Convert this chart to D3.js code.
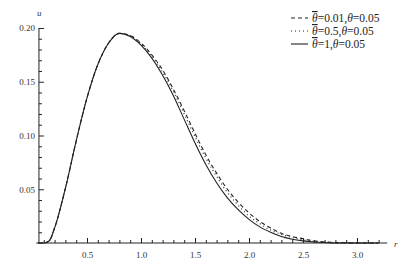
<!DOCTYPE html>
<html>
<head>
<meta charset="utf-8">
<script src="https://cdn.jsdelivr.net/npm/d3@7"></script>
<style>
  html, body { margin: 0; padding: 0; background: #fff; }
  svg { display: block; }
</style>
</head>
<body>
<svg id="chart" width="419" height="263"></svg>
<script>
// ---- data ----
const xs = [0.05,0.1,0.15,0.2,0.3,0.4,0.5,0.6,0.7,0.8,0.9,1.0,1.1,1.2,1.3,1.4,1.5,1.6,1.7,1.8,1.9,2.0,2.1,2.2,2.3,2.4,2.5,2.6,2.7,2.8,2.9,3.0,3.1,3.2];
const uDashed = [0,0,0.002,0.014,0.051,0.095,0.135,0.166,0.186,0.195,0.193,0.186,0.175,0.161,0.143,0.123,0.102,0.082,0.065,0.050,0.038,0.028,0.020,0.014,0.009,0.006,0.004,0.002,0.001,0.0005,0.0002,0,0,0];
const uDotted = [0,0,0.002,0.014,0.051,0.095,0.135,0.166,0.186,0.195,0.193,0.185,0.174,0.159,0.141,0.120,0.099,0.079,0.062,0.047,0.035,0.025,0.018,0.012,0.008,0.005,0.003,0.0015,0.0007,0.0002,0,0,0,0];
const uSolid = [0,0,0.002,0.014,0.051,0.095,0.135,0.166,0.186,0.195,0.192,0.184,0.172,0.156,0.137,0.115,0.093,0.073,0.056,0.042,0.031,0.022,0.015,0.010,0.006,0.0035,0.002,0.001,0.0004,0,0,0,0,0];
const seriesNames = ["=0.01,", "=0.5,", "=1,"];
const xMajorTicks = [0.5,1.0,1.5,2.0,2.5,3.0];
const xMinorTicks = [0.1,0.2,0.3,0.4,0.6,0.7,0.8,0.9,1.1,1.2,1.3,1.4,1.6,1.7,1.8,1.9,2.1,2.2,2.3,2.4,2.6,2.7,2.8,2.9,3.1,3.2];
const yMajorTicks = [0.05,0.10,0.15,0.20];
const yMinorTicks = [0.01,0.02,0.03,0.04,0.06,0.07,0.08,0.09,0.11,0.12,0.13,0.14,0.16,0.17,0.18,0.19];

// ---- scales ----
const svg = d3.select("#chart");
const x = d3.scaleLinear().domain([0, 3.0]).range([33, 357]);
const y = d3.scaleLinear().domain([0, 0.2]).range([243, 28]);
const yAxisAt = 0.055;
const ink = "#222";
const font = "'Liberation Serif', 'DejaVu Serif', serif";

// ---- axes ----
svg.append("line").attr("x1", x(0.03)).attr("x2", x(3.28)).attr("y1", y(0)).attr("y2", y(0))
  .attr("stroke", ink).attr("stroke-width", 1);
const gx = svg.append("g").attr("transform", `translate(0,${y(0)})`)
  .call(d3.axisBottom(x).tickValues(xMajorTicks).tickSizeInner(-5).tickSizeOuter(0).tickPadding(9).tickFormat(d3.format(".1f")));
const gxm = svg.append("g").attr("transform", `translate(0,${y(0)})`)
  .call(d3.axisBottom(x).tickValues(xMinorTicks).tickSizeInner(-3).tickSizeOuter(0).tickFormat(""));
const gy = svg.append("g").attr("transform", `translate(${x(yAxisAt)},0)`)
  .call(d3.axisLeft(y).tickValues(yMajorTicks).tickSizeInner(-5).tickSizeOuter(0).tickPadding(4).tickFormat(d3.format(".2f")));
const gym = svg.append("g").attr("transform", `translate(${x(yAxisAt)},0)`)
  .call(d3.axisLeft(y).tickValues(yMinorTicks).tickSizeInner(-3).tickSizeOuter(0).tickFormat(""));
svg.append("line").attr("x1", x(yAxisAt)).attr("x2", x(yAxisAt)).attr("y1", y(0)).attr("y2", y(0.2))
  .attr("stroke", ink).attr("stroke-width", 1);
[gx, gxm, gy, gym].forEach(g => {
  g.select(".domain").remove();
  g.selectAll(".tick line").attr("stroke", ink);
  g.selectAll("text").attr("font-family", font).attr("font-size", 9).attr("fill", "#333");
});

svg.append("text").attr("x", x(yAxisAt) - 2).attr("y", 16).text("u")
  .attr("font-family", font).attr("font-style", "italic").attr("font-size", 9).attr("fill", "#333");
svg.append("text").attr("x", 394).attr("y", 247).text("r")
  .attr("font-family", font).attr("font-style", "italic").attr("font-size", 9).attr("fill", "#333");

// ---- curves ----
const line = d3.line().x(d => x(d[0])).y(d => y(d[1])).curve(d3.curveMonotoneX);
const series = [
  { vals: uDashed, dash: "4,3" },
  { vals: uDotted, dash: "1,3" },
  { vals: uSolid, dash: null }
];
series.forEach(s => {
  svg.append("path").datum(xs.map((xv, i) => [xv, s.vals[i]]))
    .attr("d", line).attr("fill", "none").attr("stroke", ink).attr("stroke-width", 1.1)
    .attr("stroke-dasharray", s.dash);
});

// ---- legend ----
const legend = svg.append("g");
series.forEach((s, i) => {
  const ly = 18 + i * 13;
  legend.append("line").attr("x1", 291).attr("x2", 308).attr("y1", ly).attr("y2", ly)
    .attr("stroke", ink).attr("stroke-width", 1.1).attr("stroke-dasharray", s.dash);
  const t = legend.append("text").attr("x", 312).attr("y", ly + 4)
    .attr("font-family", font).attr("font-size", 11.5).attr("fill", "#222");
  t.append("tspan").attr("font-style", "italic").style("text-decoration", "overline").text("\u03B8");
  t.append("tspan").text(seriesNames[i]);
  t.append("tspan").attr("font-style", "italic").text("\u03B8");
  t.append("tspan").text("=0.05");
});
</script>
</body>
</html>
